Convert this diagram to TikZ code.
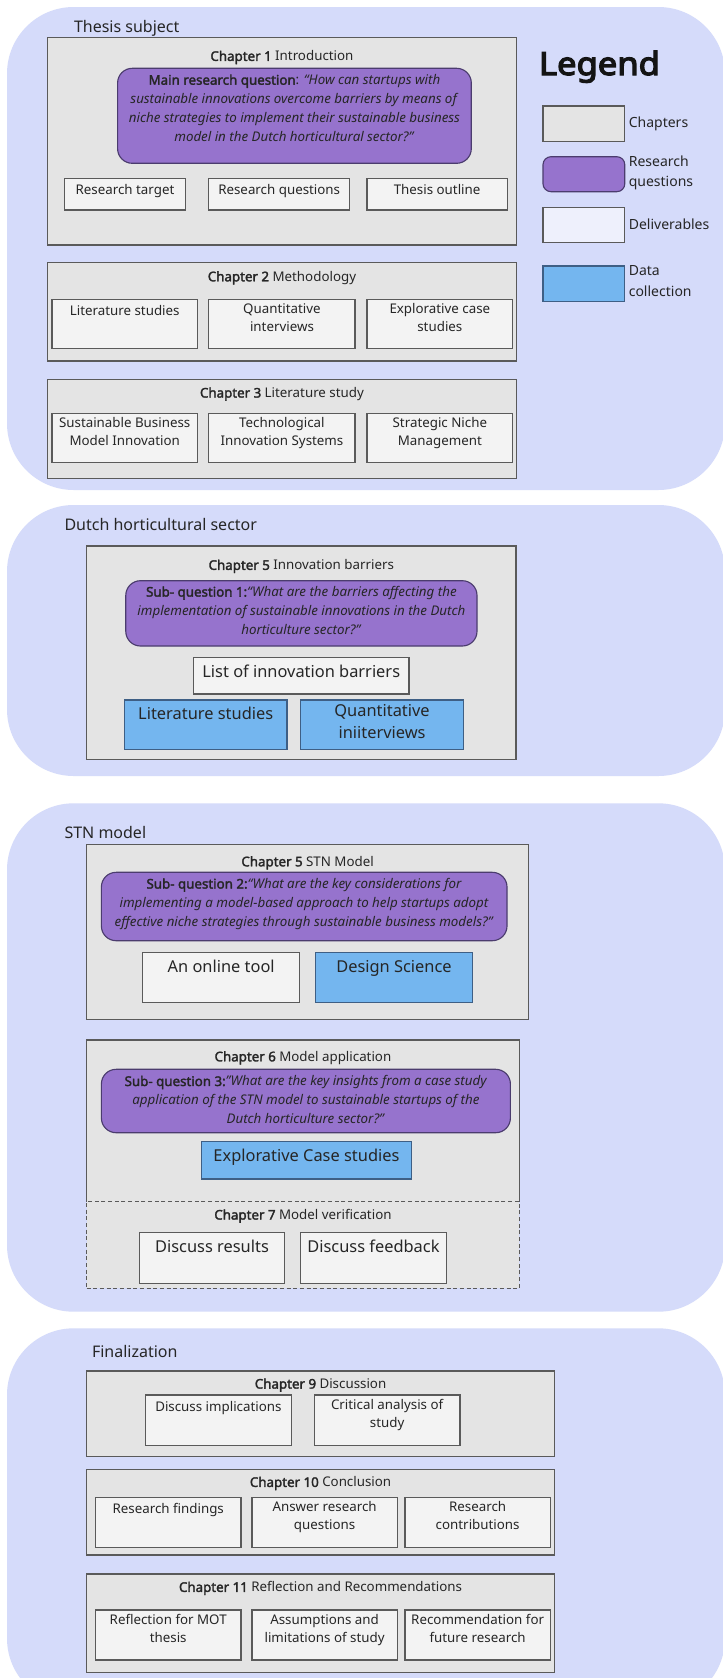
\documentclass[tikz,border=0pt]{standalone}
\usepackage{fontspec}
\setmainfont{Noto Sans}[AutoFakeBold=2.2]
\newfontfamily\legendfont{Noto Sans}[FakeBold=4, FakeStretch=1.08]
\usetikzlibrary{calc}

\definecolor{panelbg}{HTML}{D5DBFA}
\definecolor{chapfill}{HTML}{E4E4E4}
\definecolor{boxline}{HTML}{5A5A5A}
\definecolor{delivfill}{HTML}{F3F3F3}
\definecolor{legdeliv}{HTML}{EEF0FC}
\definecolor{rqfill}{HTML}{9673CD}
\definecolor{rqline}{HTML}{4B3C6E}
\definecolor{datafill}{HTML}{74B6EF}
\definecolor{dataline}{HTML}{3E5F85}
\definecolor{ink}{HTML}{262626}

\newcommand\fs[2]{\fontsize{#1}{#2}\selectfont}

% box given by its top-left and bottom-right corner (pixel units, y downwards)
\newcommand\boxnode[6][]{%
  \node[#1, anchor=north west,
        minimum width={(#5-#3)*0.75pt},
        minimum height={(#6-#4)*0.75pt}] (#2) at (#3,#4) {};}
% text hanging from the top edge of a box
\newcommand\boxtext[3][smalltxt]{%
  \node[#1, anchor=north] (#2-text) at ([yshift=-3pt]#2.north) {#3};}
% chapter heading, centred at a given depth below the chapter's top edge
\newcommand\chaptitle[3]{%
  \node[smalltxt] (#1-title) at ([yshift=-#2]#1.north) {#3};}

\begin{document}
\begin{tikzpicture}[x=0.75pt, y=-0.75pt,
  every node/.style={inner sep=0pt, outer sep=0pt, text=ink},
  panel/.style={fill=panelbg, draw=none, rounded corners=50pt},
  chapter/.style={fill=chapfill, draw=boxline, line width=0.85pt},
  chapfillonly/.style={fill=chapfill, draw=none},
  boxborder/.style={draw=boxline, line width=0.85pt},
  deliv/.style={fill=delivfill, draw=boxline, line width=0.85pt},
  legdel/.style={fill=legdeliv, draw=boxline, line width=0.85pt},
  rq/.style={fill=rqfill, draw=rqline, line width=0.85pt, rounded corners=11pt},
  legrq/.style={fill=rqfill, draw=rqline, line width=0.85pt, rounded corners=6pt},
  datac/.style={fill=datafill, draw=dataline, line width=0.85pt},
  smalltxt/.style={font=\fs{10pt}{13.5pt}, align=center,
    execute at begin node=\strut, execute at end node=\strut},
  rqtxt/.style={font=\fs{10pt}{14.25pt}, align=center,
    execute at begin node=\strut, execute at end node=\strut},
  bigtxt/.style={font=\fs{12.3pt}{16.9pt}, align=center,
    execute at begin node=\strut, execute at end node=\strut},
  legtxt/.style={font=\fs{10.5pt}{15.4pt}, align=left, anchor=west,
    execute at begin node=\strut, execute at end node=\strut},
  areatxt/.style={font=\fs{12pt}{15pt}, anchor=base west}
]
\useasboundingbox (0,0) rectangle (723,1678);
\fill[white] (0,0) rectangle (723,1678);

% ---------------- Thesis subject ----------------
\boxnode[panel]{thesis}{7}{7}{725}{490}
\node[areatxt] (thesis-label) at (74,32) {Thesis subject};

\boxnode[chapter]{ch1}{47.5}{37.3}{516.4}{245}
\chaptitle{ch1}{15pt}{\textbf{Chapter 1} Introduction}
\boxnode[rq]{mainrq}{117.6}{68.3}{471.3}{163.3}
\node[rqtxt] (mainrq-text) at ([yshift=3.6pt]mainrq.center)
  {\textbf{Main research question}: \textit{“How can startups with}\\
   \textit{sustainable innovations overcome barriers by means of}\\
   \textit{niche strategies to implement their sustainable business}\\
   \textit{model in the Dutch horticultural sector?"}};
\boxnode[deliv]{target}{64.6}{178.3}{185.4}{210}
\boxtext{target}{Research target}
\boxnode[deliv]{questions}{208.9}{178.3}{349.5}{210}
\boxtext{questions}{Research questions}
\boxnode[deliv]{outline}{367}{178.3}{507.2}{210}
\boxtext{outline}{Thesis outline}

\boxnode[chapter]{ch2}{47.5}{262.7}{516.4}{361}
\chaptitle{ch2}{11.25pt}{\textbf{Chapter 2} Methodology}
\boxnode[deliv]{litstud}{52}{299.3}{197.4}{348.3}
\boxtext{litstud}{Literature studies}
\boxnode[deliv]{quantint}{208.9}{299.3}{355}{348.3}
\boxtext{quantint}{Quantitative\\interviews}
\boxnode[deliv]{explcase}{367}{299.3}{512.7}{348.3}
\boxtext{explcase}{Explorative case\\studies}

\boxnode[chapter]{ch3}{47.5}{379.3}{516.4}{478.3}
\chaptitle{ch3}{11pt}{\textbf{Chapter 3} Literature study}
\boxnode[deliv]{sbmi}{52}{413.3}{197.4}{462.7}
\boxtext{sbmi}{Sustainable Business\\Model Innovation}
\boxnode[deliv]{tis}{208.9}{413.3}{355}{462.7}
\boxtext{tis}{Technological\\Innovation Systems}
\boxnode[deliv]{snm}{367}{413.3}{512.7}{462.7}
\boxtext{snm}{Strategic Niche\\Management}

% legend
\node[font=\legendfont\fs{24pt}{28pt}, anchor=base west, text=black!92] (legend-title) at (539,75) {Legend};
\boxnode[chapter]{legchap}{543}{106}{624.8}{141.7}
\node[legtxt] (legchap-text) at ([xshift=3pt]legchap.east) {Chapters};
\boxnode[legrq]{legrq}{543}{156.7}{624.8}{191.7}
\node[legtxt] (legrq-text) at ([xshift=3pt]legrq.east) {Research\\questions};
\boxnode[legdel]{legdel}{543}{207.3}{624.8}{242.7}
\node[legtxt] (legdel-text) at ([xshift=3pt]legdel.east) {Deliverables};
\boxnode[datac]{legdata}{543}{266}{624.8}{301.7}
\node[legtxt] (legdata-text) at ([xshift=3pt]legdata.east) {Data\\collection};

% ---------------- Dutch horticultural sector ----------------
\boxnode[panel]{dutch}{7}{505}{725}{776}
\node[areatxt] (dutch-label) at (64.5,530) {Dutch horticultural sector};

\boxnode[chapter]{ch5}{86.6}{546}{516}{759.3}
\chaptitle{ch5}{15.2pt}{\textbf{Chapter 5} Innovation barriers}
\boxnode[rq]{sq1}{125.8}{580.7}{477}{646}
\node[rqtxt] (sq1-text) at (sq1.center)
  {\textbf{Sub- question 1:}\textit{“What are the barriers affecting the}\\
   \textit{implementation of sustainable innovations in the Dutch}\\
   \textit{horticulture sector?”}};
\boxnode[deliv]{barriers}{193.5}{657.3}{409}{694}
\boxtext[bigtxt]{barriers}{List of innovation barriers}
\boxnode[datac]{litdata}{124.4}{700}{287}{749.3}
\boxtext[bigtxt]{litdata}{Literature studies}
\boxnode[datac]{quantdata}{300.5}{700}{463.6}{749.3}
\boxtext[bigtxt]{quantdata}{Quantitative\\iniiterviews}

% ---------------- STN model ----------------
\boxnode[panel]{stn}{7}{803.3}{725}{1311.7}
\node[areatxt] (stn-label) at (64.5,838.5) {STN model};

\boxnode[chapter]{ch5m}{86.6}{844.3}{528.6}{1019.3}
\chaptitle{ch5m}{13.8pt}{\textbf{Chapter 5} STN Model}
\boxnode[rq]{sq2}{101.4}{872.3}{507}{940.7}
\node[rqtxt] (sq2-text) at ([yshift=0.9pt]sq2.center)
  {\textbf{Sub- question 2:}\textit{“What are the key considerations for}\\
   \textit{implementing a model-based approach to help startups adopt}\\
   \textit{effective niche strategies through sustainable business models?”}};
\boxnode[deliv]{tool}{142.9}{952.3}{299.5}{1002.3}
\boxtext[bigtxt]{tool}{An online tool}
\boxnode[datac]{design}{315.7}{952.3}{472.3}{1002.3}
\boxtext[bigtxt]{design}{Design Science}

\boxnode[chapfillonly]{ch6}{86.6}{1040}{519.3}{1201.7}
\draw[boxborder] (ch6.south west) |- (ch6.north east) -- (ch6.south east);
\chaptitle{ch6}{13.3pt}{\textbf{Chapter 6} Model application}
\boxnode[rq]{sq3}{101.4}{1069.3}{510.4}{1132.7}
\node[rqtxt] (sq3-text) at ([yshift=-1.3pt]sq3.center)
  {\textbf{Sub- question 3:}\textit{"What are the key insights from a case study}\\
   \textit{application of the STN model to sustainable startups of the}\\
   \textit{Dutch horticulture sector?"}};
\boxnode[datac]{explore}{201.4}{1141.7}{411.5}{1179}
\boxtext[bigtxt]{explore}{Explorative Case studies}

\boxnode[chapter, dashed, dash pattern=on 3pt off 2pt]{ch7}{86.6}{1201.7}{519.3}{1288.3}
\chaptitle{ch7}{10.7pt}{\textbf{Chapter 7} Model verification}
\boxnode[deliv]{results}{139.2}{1232.7}{284.8}{1283.3}
\boxtext[bigtxt]{results}{Discuss results}
\boxnode[deliv]{feedback}{300.5}{1232.7}{446.4}{1283.3}
\boxtext[bigtxt]{feedback}{Discuss feedback}

% ---------------- Finalization ----------------
\boxnode[panel]{final}{7}{1328.3}{725}{1705}
\node[areatxt] (final-label) at (92,1357.3) {Finalization};

\boxnode[chapter]{ch9}{86.6}{1371}{554.5}{1456.7}
\chaptitle{ch9}{10.5pt}{\textbf{Chapter 9} Discussion}
\boxnode[deliv]{implic}{145.6}{1395}{291.2}{1445.7}
\boxtext{implic}{Discuss implications}
\boxnode[deliv]{critical}{314.3}{1395}{460}{1445.7}
\boxtext{critical}{Critical analysis of\\study}

\boxnode[chapter]{ch10}{86.6}{1469.3}{554.5}{1555}
\chaptitle{ch10}{10.5pt}{\textbf{Chapter 10} Conclusion}
\boxnode[deliv]{findings}{95.4}{1497.3}{241}{1547.3}
\boxtext{findings}{Research findings}
\boxnode[deliv]{answer}{252}{1497.3}{397.2}{1547.3}
\boxtext{answer}{Answer research\\questions}
\boxnode[deliv]{contrib}{405}{1497.3}{550.3}{1547.3}
\boxtext{contrib}{Research\\contributions}

\boxnode[chapter]{ch11}{86.6}{1574}{554.5}{1672.3}
\chaptitle{ch11}{10.7pt}{\textbf{Chapter 11} Reflection and Recommendations}
\boxnode[deliv]{reflect}{95.4}{1610}{241}{1660}
\boxtext{reflect}{Reflection for MOT\\thesis}
\boxnode[deliv]{assump}{252}{1610}{397.2}{1660}
\boxtext{assump}{Assumptions and\\limitations of study}
\boxnode[deliv]{recomm}{405}{1610}{550.3}{1660}
\boxtext{recomm}{Recommendation for\\future research}
\end{tikzpicture}
\end{document}
